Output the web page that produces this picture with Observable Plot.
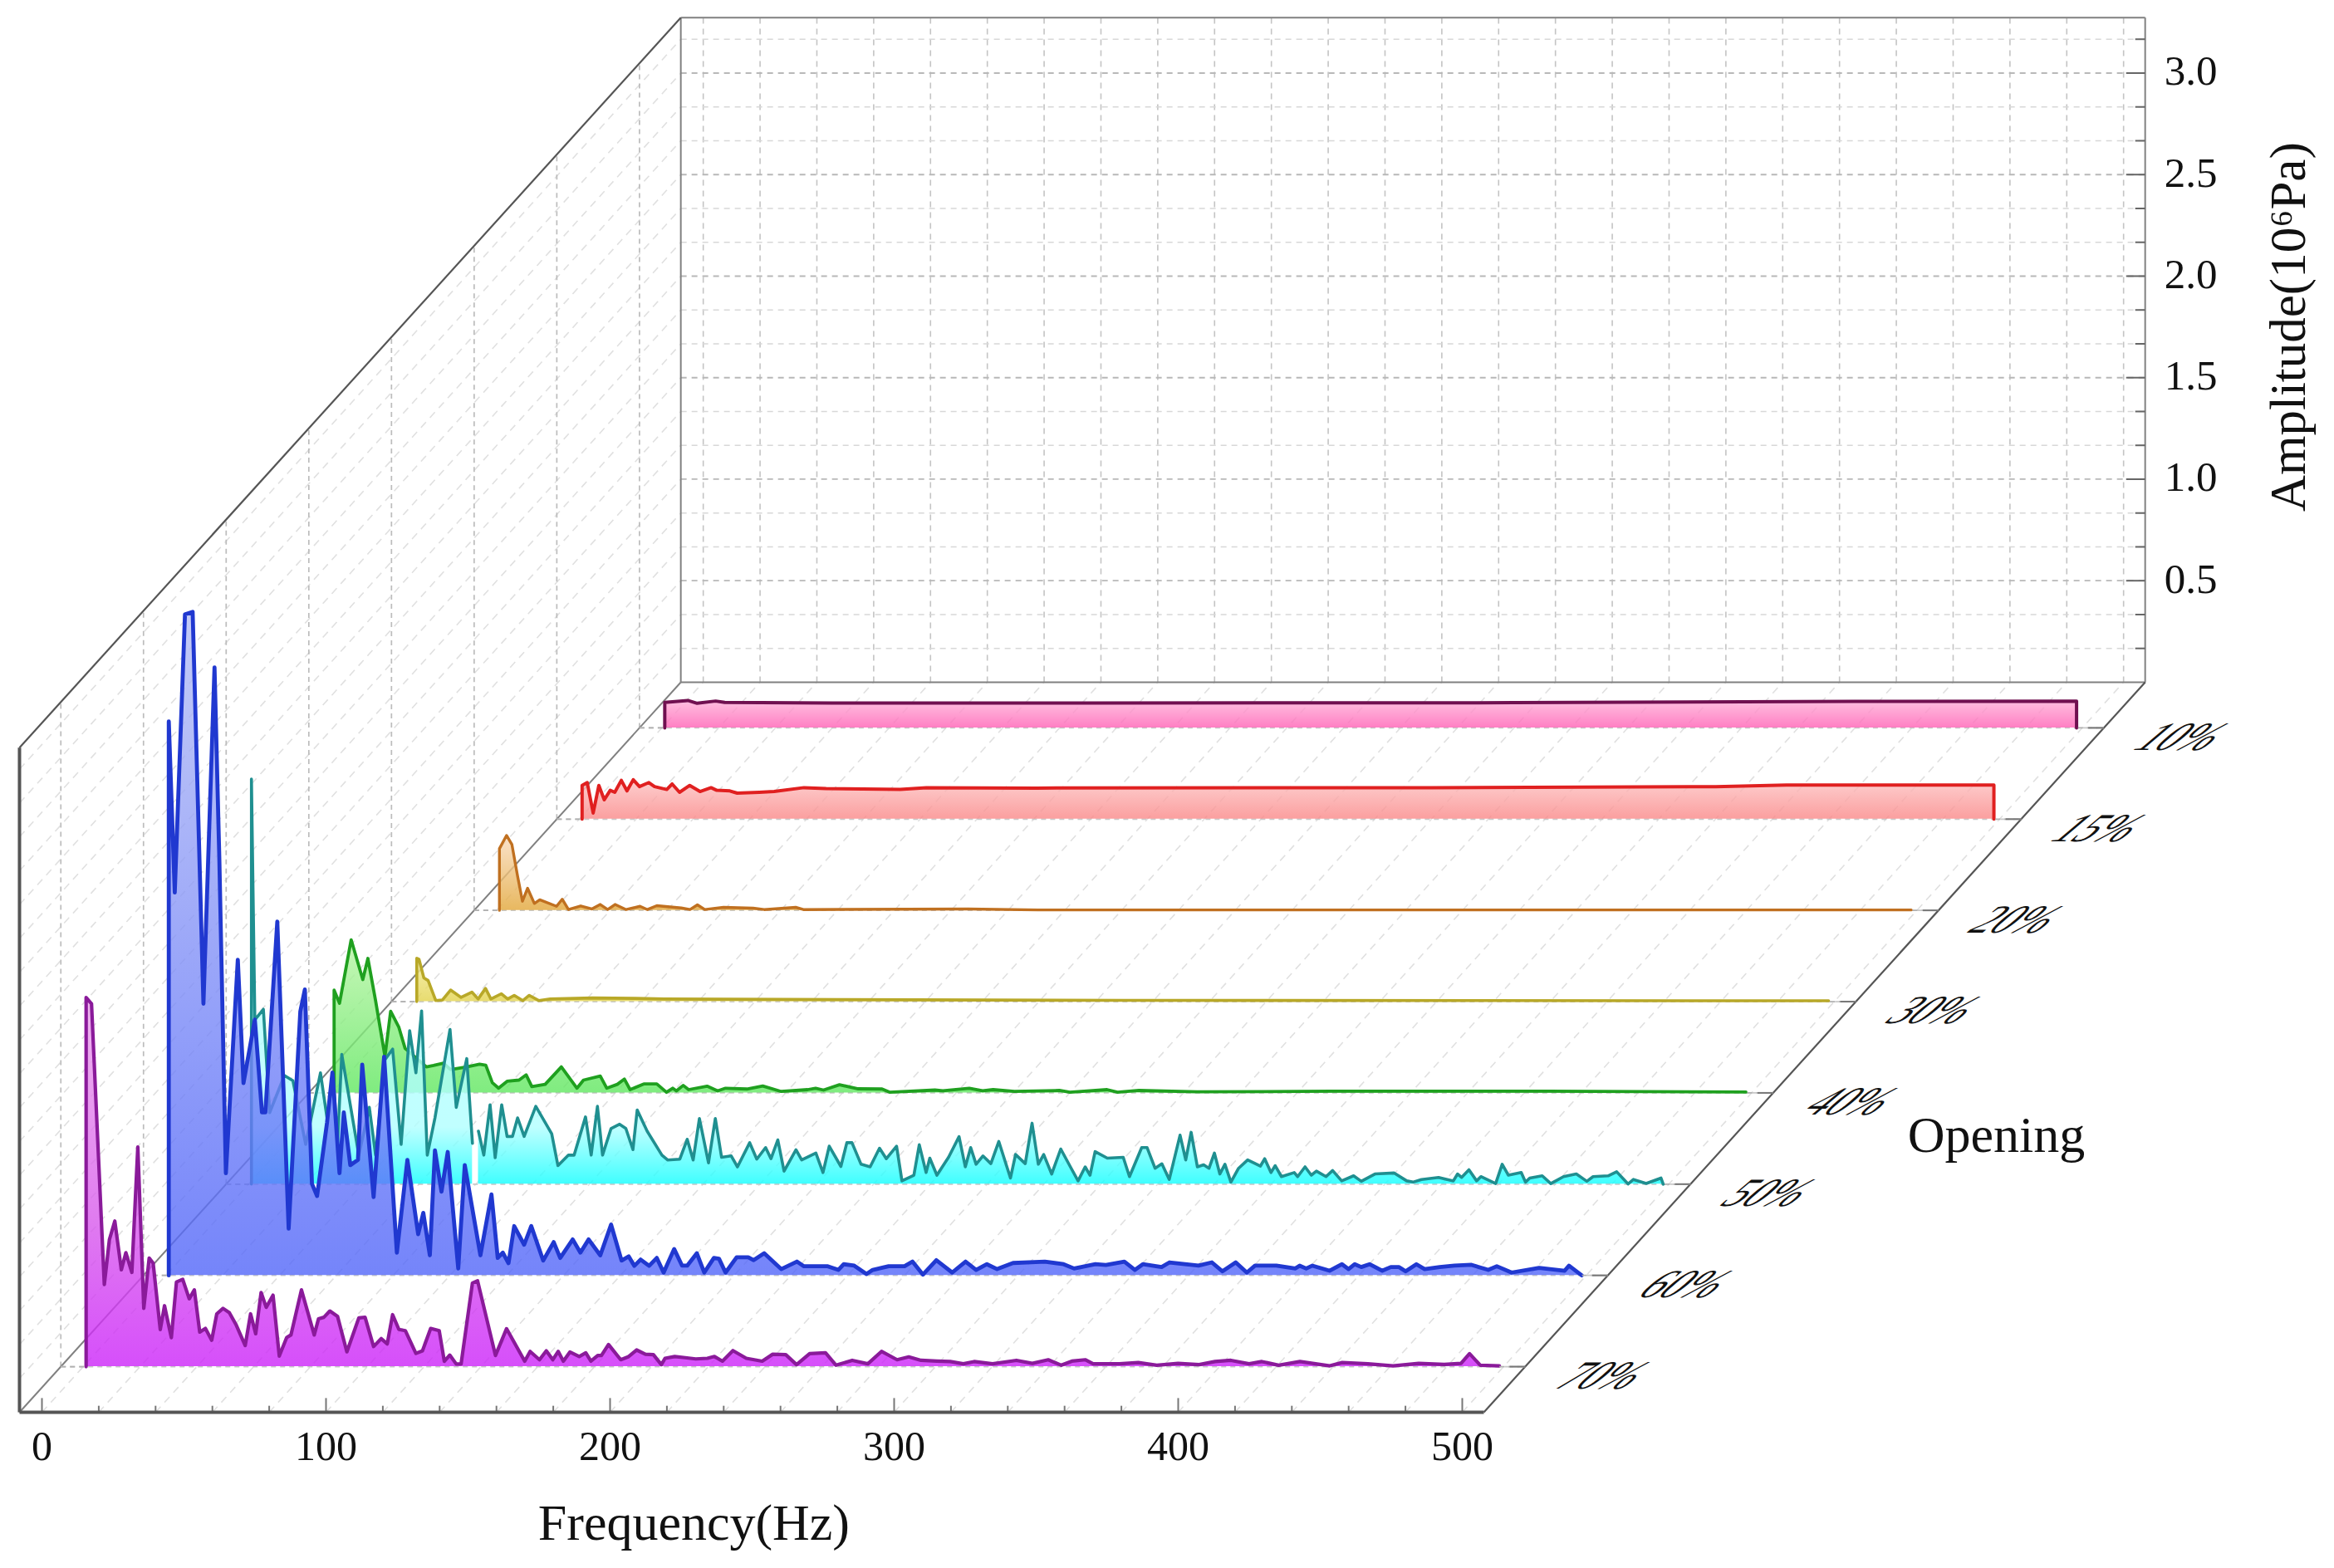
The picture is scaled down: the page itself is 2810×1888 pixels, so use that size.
<!DOCTYPE html>
<html>
<head>
<meta charset="utf-8">
<script src="https://cdn.jsdelivr.net/npm/d3@7"></script>
<script src="https://cdn.jsdelivr.net/npm/@observablehq/plot@0.6"></script>
<style>html,body{margin:0;padding:0;background:#fff}svg{display:block;max-width:none!important}</style>
</head>
<body>
<div id="chart"></div>
<script>
// [frequency in Hz, amplitude in 10^6 Pa]
const opening10 = [[1,0],[1,.125],[9.1,.135],[12.4,.121],[18.9,.132],[22.1,.125],[60,.122],[150,.122],[300,.124],[420,.13],[498,.132],[498,0]];
const opening15 = [[1,0],[1,.166],[2.8,.18],[4.9,.03],[6.9,.166],[8.8,.095],[10.9,.142],[12.5,.132],[14.8,.191],[16.8,.139],[19,.194],[21.2,.16],[24.5,.18],[26.5,.16],[30.8,.146],[32.7,.173],[35.3,.132],[38.9,.166],[42.5,.136],[46.4,.155],[48.4,.142],[53,.139],[55.6,.128],[63.4,.132],[68.6,.136],[79.1,.155],[86.9,.15],[113,.146],[122.2,.155],[161,.153],[300,.155],[400,.16],[425,.168],[498,.168],[498,0]];
const opening20 = [[1,0],[1,.304],[3.5,.369],[5.4,.324],[7.4,.168],[9.1,.045],[10.9,.109],[13.3,.034],[15.2,.052],[21.1,.02],[23.1,.055],[25.3,.004],[29.6,.022],[33.5,.007],[36.5,.029],[39.1,.004],[41.7,.029],[45.6,.004],[50.5,.02],[53.1,.004],[56.4,.023],[65,.012],[68.1,.004],[70.7,.027],[73.3,.004],[79.9,.015],[90.3,.011],[94.2,.004],[105.3,.015],[108,.004],[166,.007],[190.6,.002],[498,.002]];
const opening30 = [[1,0],[1,.214],[1.8,.208],[3.5,.117],[5,.104],[7.7,.005],[10,.008],[12.9,.057],[16.6,.021],[20.4,.047],[22.6,.013],[25.2,.065],[27.1,.013],[30.8,.039],[33,.013],[35.3,.031],[38.3,.005],[40.6,.031],[44,.005],[48,.013],[62.9,.018],[77.9,.016],[88,.013],[150,.01],[250,.006],[498,.004]];
const opening40 = [[1,0],[1,.506],[2.9,.441],[7,.754],[11.1,.558],[12.9,.662],[15.6,.454],[18.9,.18],[20.9,.402],[23.8,.323],[26,.219],[33.5,.128],[36,.135],[39.5,.146],[42,.115],[47.7,.128],[52.2,.141],[54.4,.136],[56.7,.05],[58.9,.023],[61.9,.057],[66.1,.063],[68.6,.089],[70.6,.031],[75.3,.042],[81,.128],[86.5,.023],[88.8,.063],[94.7,.083],[97,.023],[100.7,.042],[103.2,.068],[105.2,.016],[110,.044],[114.6,.044],[118,.003],[120.2,.023],[121.5,.01],[123.9,.037],[125.8,.016],[132.3,.033],[136,.01],[138.8,.023],[146.3,.019],[151.9,.034],[158.4,.007],[167.7,.016],[170.5,.023],[173.3,.014],[178.9,.04],[185.5,.02],[193.9,.019],[196.7,.003],[212.5,.014],[215.3,.01],[224.6,.023],[229.3,.01],[233,.016],[240.5,.007],[256.3,.012],[260,.003],[273.1,.016],[276.8,.003],[284.3,.012],[304.8,.005],[352,.008],[404.5,.008],[428.4,.008],[498,.004]];
const opening50 = [[1,0],[1,1.995],[2.2,.809],[5.2,.861],[7.4,.352],[12.6,.535],[15.6,.509],[20.1,.196],[25.3,.548],[27.6,.326],[29.8,.535],[31.3,.196],[32.8,.639],[35,.456],[38.8,.143],[42.5,.378],[44.7,.143],[48,.613],[50.7,.665],[53.7,.196],[56.7,.756],[58.9,.548],[60.9,.853],[62.9,.143],[65.6,.326],[70.9,.762],[73.1,.378],[76.8,.618],[78.8,.201],[79.9,null],[80.9,.261],[82.8,.143],[85,.391],[86.8,.13],[89.1,.391],[91,.235],[92.9,.235],[94.7,.326],[97,.235],[101.1,.383],[106.7,.248],[108.9,.091],[112.6,.143],[114.6,.143],[118.6,.331],[120.6,.143],[122.8,.383],[124.6,.143],[127.6,.274],[130.6,.295],[132.8,.274],[135.3,.17],[136.8,.365],[140.3,.261],[145.5,.143],[147.5,.119],[151.8,.123],[154.4,.221],[156.5,.119],[158.7,.323],[161.9,.105],[164.3,.323],[166.5,.132],[169.9,.139],[172.1,.085],[176.4,.204],[178.9,.123],[182,.18],[183.9,.125],[186.3,.218],[188.5,.064],[192.7,.169],[194.7,.119],[199.7,.153],[202.2,.057],[204.4,.187],[208.5,.087],[210.6,.204],[212.4,.204],[215.6,.098],[218.8,.085],[222.1,.177],[224.5,.125],[228.1,.187],[230,.016],[234.2,.044],[236.1,.194],[238.5,.057],[239.8,.128],[242.3,.044],[246.4,.132],[250.1,.234],[252.3,.085],[254.2,.18],[256.1,.098],[258.5,.139],[261.3,.101],[264.1,.21],[268.2,.03],[270,.146],[273.4,.101],[275.8,.3],[278,.098],[279.9,.146],[282.7,.05],[285.9,.173],[289.3,.085],[292,.016],[294.5,.085],[296.2,.044],[298,.16],[302.3,.128],[307.9,.132],[310.1,.037],[314.4,.18],[316.3,.18],[319.1,.078],[321.5,.1],[324.1,.023],[327.9,.241],[329.9,.119],[331.8,.255],[334,.085],[336.2,.095],[338.1,.078],[340,.153],[341.9,.05],[343.7,.098],[345.8,.01],[348.5,.078],[351.7,.119],[356.2,.089],[357.7,.125],[359.9,.057],[361.4,.091],[363.6,.037],[368.1,.057],[369.3,.037],[371.9,.085],[374.1,.044],[375.9,.064],[379.3,.037],[381.6,.067],[384.8,.016],[389,.041],[391.7,.014],[396.5,.05],[403.2,.055],[407.7,.016],[409.9,.01],[412.9,.023],[418.9,.033],[424.1,.016],[425.6,.05],[427,.033],[429.6,.071],[432.3,.016],[433.8,.037],[439,.003],[441.3,.098],[443.5,.044],[448,.057],[449.5,.01],[451,.03],[455.4,.041],[458.4,.003],[462.9,.037],[467.4,.05],[471.1,.014],[473.3,.037],[478.6,.041],[481.6,.061],[485.6,.001],[487.5,.023],[492,.003],[497.2,.03],[498,0]];
const opening60 = [[1,0],[1,2.728],[3.1,1.886],[6.7,3.255],[9.4,3.268],[13.2,1.338],[17.1,2.994],[18.8,2.05],[21.1,.503],[25.3,1.554],[27.3,.947],[31.3,1.26],[33.8,.803],[35,.803],[39.2,1.742],[43.2,.23],[47.3,1.299],[48.9,1.408],[51.4,.451],[53.2,.391],[56.7,.751],[58.6,.999],[61.1,.503],[62.6,.803],[64.9,.543],[67.6,.569],[69.1,1.038],[73.1,.386],[76.8,1.077],[81.3,.112],[85,.569],[88.8,.203],[90.6,.308],[92.9,.099],[94.7,.616],[97,.412],[99.2,.608],[102.9,.034],[105.2,.543],[110.7,.099],[114.6,.399],[116.8,.086],[118.6,.112],[120.6,.06],[122.6,.243],[126.1,.151],[128.6,.243],[132.8,.073],[136.5,.164],[138.8,.086],[143.2,.177],[145.9,.112],[148.8,.177],[152.9,.099],[156.7,.25],[160.4,.073],[162.9,.094],[164.9,.047],[167.1,.078],[170.1,.047],[172.8,.086],[175.2,.014],[178.9,.13],[181.7,.048],[183.5,.048],[186.9,.109],[189.5,.014],[192.9,.086],[194.7,.082],[197,.014],[200.9,.089],[205,.089],[206.9,.075],[210.6,.109],[216.6,.031],[222.1,.068],[224.6,.045],[233,.045],[236.7,.027],[238.6,.055],[242.3,.048],[246.6,.007],[248.8,.027],[254.4,.045],[260,.045],[262.8,.068],[266.5,.004],[271.2,.075],[276.8,.014],[281.5,.068],[285.2,.027],[289,.055],[292.6,.031],[298.2,.061],[309.4,.068],[316,.055],[319.7,.034],[327.2,.055],[330.9,.051],[337.4,.068],[341.1,.027],[343.9,.055],[350.5,.041],[353.3,.064],[363.5,.048],[368.2,.064],[371.9,.02],[376.6,.064],[380.5,.014],[383.4,.048],[390.9,.048],[397.6,.034],[399.1,.048],[401.4,.034],[403.6,.048],[409.6,.023],[414,.055],[416.3,.031],[418.5,.055],[420.8,.041],[423.7,.055],[428.2,.023],[431.2,.041],[434.1,.041],[436.4,.02],[440.2,.055],[443.1,.031],[448.4,.041],[453.6,.048],[459.6,.052],[465.5,.027],[468.5,.045],[473.7,.014],[483.4,.037],[492.4,.023],[493.9,.048],[498.4,0]];
const opening70 = [[1,0],[1,1.818],[2.9,1.787],[7.4,.404],[9.2,.626],[11.1,.717],[13.4,.477],[15,.561],[17.1,.464],[19.2,1.082],[21.3,.287],[23.2,.535],[24.6,.509],[27.1,.183],[28.6,.3],[31,.143],[32.8,.417],[35,.43],[37.3,.334],[39.1,.378],[41,.17],[43,.188],[45.2,.13],[47,.26],[49.2,.287],[51.4,.266],[53.7,.209],[57,.104],[58.9,.26],[60.7,.162],[62.6,.365],[64.4,.292],[66.8,.352],[69,.052],[71.6,.143],[73.1,.156],[76.8,.378],[81.3,.156],[82.8,.235],[84.7,.243],[86.8,.274],[89.5,.248],[92.8,.073],[97,.24],[99.2,.243],[102.2,.099],[104.9,.138],[107,.112],[108.9,.256],[111.1,.183],[113.4,.177],[117.1,.065],[119.4,.078],[122.3,.188],[125.3,.177],[127.1,.026],[129,.057],[131.3,.013],[133,.013],[137,.412],[138.8,.423],[145.1,.055],[149,.187],[155.4,.027],[157.3,.075],[160.6,.034],[163,.078],[165.3,.034],[167.2,.075],[169,.027],[171.3,.072],[174.6,.05],[176.9,.068],[178.7,.027],[181.1,.055],[182.4,.055],[184.9,.109],[189.2,.034],[191.8,.048],[194.8,.082],[197.9,.061],[200.7,.059],[203.5,.01],[204.8,.041],[208.2,.05],[211.9,.044],[215.6,.038],[219.7,.041],[222.2,.05],[225,.027],[228.7,.079],[233.4,.041],[239,.027],[242.7,.061],[247.3,.059],[251.1,.01],[255.7,.064],[261.3,.068],[265,.007],[270.7,.031],[276.2,.014],[281,.075],[286.5,.034],[290.6,.048],[294.9,.031],[300.5,.027],[305.2,.025],[309.8,.014],[313.6,.025],[320.1,.014],[328.5,.031],[334.1,.016],[339.7,.034],[344.3,.007],[348,.027],[352.7,.034],[355.5,.014],[364.8,.014],[371.4,.02],[377.9,.007],[385.4,.016],[392.8,.01],[398.4,.025],[404,.031],[410.4,.014],[414.9,.025],[420.8,.007],[428.3,.025],[438.8,.004],[443.2,.02],[452.2,.014],[461.1,.004],[470.1,.016],[479.1,.011],[485,.016],[488,.064],[491.8,.007],[498.5,.004]];

const openingLabels = ["10%","15%","20%","30%","40%","50%","60%","70%"];
const seriesValues = [opening10,opening15,opening20,opening30,opening40,opening50,opening60,opening70];
const openingDepth = [7.5,6.5,5.5,4.5,3.5,2.5,1.5,0.5];
const lineColors = ["#701050","#e02020","#c07020","#b8a828","#1fa01f","#1f8f90","#2038d0","#8a1a9a"];
const gradientStops = [
  [[0,"#ffb0d8"],[1,"#ff60b5"]],
  [[0,"#fdc3c3"],[1,"#fa8787"]],
  [[0,"#fadcbf"],[1,"#e2a638"]],
  [[0,"#f4eb9c"],[1,"#e2d34c"]],
  [[0,"#baf5a6"],[1,"#60e760"]],
  [[0,"#c0ffff"],[.86,"#b0ffff"],[1,"#10ffff"]],
  [[0,"#b5bef5"],[1,"#5266f9"]],
  [[0,"#eba4eb"],[.6,"#d85bec"],[1,"#cc23f9"]]
];
const lineWidths = [4,4,3.4,3.6,3.8,3.6,4.8,4.2];

const freqTicks = d3.range(0,501,20);
const freqLabels = [0,100,200,300,400,500];
const ampTicks = d3.range(1,20).map(k => k/6);
const ampLabels = [0.5,1,1.5,2,2.5,3];

// oblique projection of (frequency, depth, amplitude) onto the plot plane
const depthHz = 29.1, depthAmp = 0.4494;
const fLeft = -7.9, fRight = 507.6, depthMax = 8, ampTop = 3.273;
const px = (f,d) => f + d*depthHz;
const py = (a,d) => a + d*depthAmp;
const seg = (f1,d1,a1,f2,d2,a2) => ({x1:px(f1,d1),y1:py(a1,d1),x2:px(f2,d2),y2:py(a2,d2)});
const links = (rows,o) => Plot.link(rows,{x1:"x1",y1:"y1",x2:"x2",y2:"y2",...o});
const isMajorAmp = a => Math.abs(a*2-Math.round(a*2))<1e-6;

const defs = () => {
  const g = d3.create("svg:defs");
  gradientStops.forEach((stops,i) => {
    const lg = g.append("linearGradient").attr("id","fill"+i).attr("x1",0).attr("x2",0).attr("y1",0).attr("y2",1);
    stops.forEach(([o,c]) => lg.append("stop").attr("offset",o).attr("stop-color",c));
  });
  return g.node();
};

const gridColor = "#c4c4c4", faint = "#e0e0e0";
const marks = [
  defs,
  // back wall grid
  links(freqTicks.map(f=>seg(f,depthMax,0,f,depthMax,ampTop)),{stroke:gridColor,strokeWidth:1.6,strokeDasharray:"7 6"}),
  links(ampTicks.filter(a=>!isMajorAmp(a)).map(a=>seg(fLeft,depthMax,a,fRight,depthMax,a)),{stroke:"#d8d8d8",strokeWidth:1.6,strokeDasharray:"7 6"}),
  links(ampTicks.filter(isMajorAmp).map(a=>seg(fLeft,depthMax,a,fRight,depthMax,a)),{stroke:"#b8b8b8",strokeWidth:1.8,strokeDasharray:"7 6"}),
  // left wall grid
  links(ampTicks.map(a=>seg(fLeft,0,a,fLeft,depthMax,a)),{stroke:faint,strokeWidth:1.6,strokeDasharray:"9 7"}),
  links(openingDepth.map(d=>seg(fLeft,d,0,fLeft,d,ampTop)),{stroke:"#bcbcbc",strokeWidth:1.7,strokeDasharray:"6 5"}),
  // floor grid
  links(freqTicks.map(f=>seg(f,0,0,f,depthMax,0)),{stroke:faint,strokeWidth:1.6,strokeDasharray:"9 7"}),
  // frame
  links([seg(fLeft,depthMax,0,fLeft,depthMax,ampTop),seg(fLeft,depthMax,ampTop,fRight,depthMax,ampTop),seg(fRight,depthMax,ampTop,fRight,depthMax,0),seg(fLeft,depthMax,0,fRight,depthMax,0),seg(fLeft,0,0,fLeft,depthMax,0)],{stroke:"#808080",strokeWidth:2}),
  links([seg(fLeft,0,ampTop,fLeft,depthMax,ampTop),seg(fRight,0,0,fRight,depthMax,0)],{stroke:"#555",strokeWidth:2.2}),
  links(ampTicks.map(a=>seg(fRight-(isMajorAmp(a)?6.7:3.5),depthMax,a,fRight,depthMax,a)),{stroke:"#666",strokeWidth:2})
];

seriesValues.forEach((vals,i) => {
  const d = openingDepth[i];
  const rows = vals.map(([f,a]) => ({X:px(f,d),Y0:py(0,d),Y:a==null?NaN:py(a,d)}));
  marks.push(links([seg(fLeft,d,0,fRight,d,0)],{stroke:"#c8c8c8",strokeWidth:1.8,strokeDasharray:"6 5"}));
  marks.push(Plot.area(rows,{x1:"X",y1:"Y0",y2:"Y",fill:`url(#fill${i})`,fillOpacity:0.8}));
  marks.push(Plot.line(rows,{x:"X",y:"Y",stroke:lineColors[i],strokeWidth:lineWidths[i],strokeLinejoin:"round"}));
  marks.push(links([seg(fLeft,d,0,vals[0][0],d,0),seg(498.5,d,0,fRight,d,0)],{stroke:"#b0b0b0",strokeWidth:1.8,strokeDasharray:"6 5"}));
  marks.push(links([seg(fRight-5.5,d,0,fRight,d,0)],{stroke:"#777",strokeWidth:2}));
});

const serif = "Liberation Serif";
marks.push(
  links(freqTicks.map(f=>seg(f,0,0,f,0,freqLabels.includes(f)?0.07:0.032)),{stroke:"#777",strokeWidth:2}),
  links([seg(fLeft,0,0,fRight,0,0),seg(fLeft,0,0,fLeft,0,ampTop)],{stroke:"#555",strokeWidth:4}),
  Plot.text(freqLabels,{x:f=>f,y:()=>-0.17,text:f=>String(f),fontFamily:serif,fontSize:50,fill:"#111"}),
  Plot.text(ampLabels,{x:()=>px(fRight,depthMax),y:a=>py(a,depthMax),dx:23,dy:-2,text:a=>a.toFixed(1),textAnchor:"start",fontFamily:serif,fontSize:51,fill:"#111"}),
  Plot.text(openingLabels,{x:(t,i)=>px(fRight,openingDepth[i]),y:(t,i)=>py(0,openingDepth[i]),dx:94,dy:11,text:t=>t,fontFamily:serif,fontSize:48,fill:"#111",className:"opening-label"}),
  Plot.text(["Frequency(Hz)"],{x:()=>229.5,y:()=>-0.547,text:t=>t,fontFamily:serif,fontSize:62,fill:"#111"}),
  Plot.text(["Opening"],{x:()=>688,y:()=>1.363,text:t=>t,fontFamily:serif,fontSize:62,fill:"#111"}),
  Plot.text(["Amplitude(10⁶Pa)"],{x:()=>791,y:()=>5.345,text:t=>t,rotate:-90,fontFamily:serif,fontSize:61,fill:"#111"})
);

const chart = Plot.plot({
  width:2810,height:1888,margin:0,
  x:{axis:null,domain:[-14.62,807.02],range:[0,2810]},
  y:{axis:null,domain:[-0.769,6.953],range:[1888,0]},
  style:{background:"#fff"},
  marks
});
chart.querySelectorAll(".opening-label text").forEach(t => {
  t.setAttribute("transform",(t.getAttribute("transform")||"")+" skewX(-50)");
});
document.getElementById("chart").append(chart);
</script>
</body>
</html>
